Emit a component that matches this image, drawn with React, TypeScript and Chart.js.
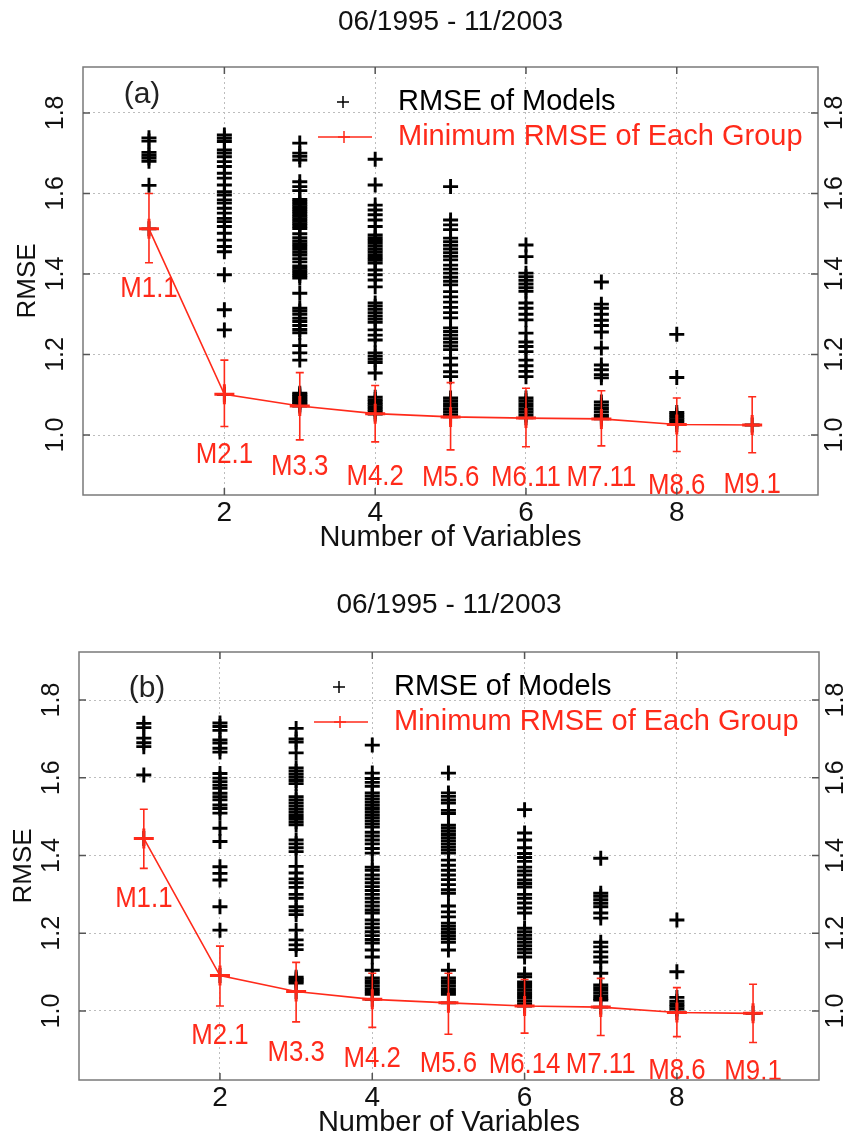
import React, { useEffect, useRef } from 'react';
import { Chart, registerables } from 'chart.js';

Chart.register(...registerables);

// ---------- text ----------
const TITLE = '06/1995 - 11/2003';
const X_TITLE = 'Number of Variables';
const Y_TITLE = 'RMSE';
const LEGEND_MODELS = 'RMSE of Models';
const LEGEND_MIN = 'Minimum RMSE of Each Group';

// ---------- axes ----------
const groups = [1, 2, 3, 4, 5, 6, 7, 8, 9];
const xTicks = [2, 4, 6, 8];
const yTicks = [1.0, 1.2, 1.4, 1.6, 1.8];

// ---------- panel (a): RMSE of every model, per number of variables ----------
const a1 = [1.738, 1.730, 1.702, 1.695, 1.688, 1.680, 1.620, 1.512];
const a2 = [1.745, 1.737, 1.729, 1.708, 1.700, 1.691, 1.679, 1.667, 1.650, 1.638, 1.621, 1.604, 1.596, 1.584, 1.576, 1.563, 1.551, 1.538, 1.530, 1.518, 1.501, 1.484, 1.468, 1.455, 1.398, 1.311, 1.261, 1.101];
const a3 = [1.725, 1.700, 1.692, 1.683, 1.629, 1.617, 1.607, 1.585, 1.579, 1.573, 1.567, 1.561, 1.555, 1.549, 1.543, 1.537, 1.531, 1.525, 1.519, 1.513, 1.500, 1.490, 1.482, 1.475, 1.468, 1.461, 1.454, 1.447, 1.438, 1.430, 1.420, 1.414, 1.408, 1.402, 1.396, 1.390, 1.352, 1.315, 1.308, 1.300, 1.290, 1.282, 1.272, 1.262, 1.254, 1.222, 1.204, 1.186, 1.104, 1.100, 1.096, 1.092, 1.088, 1.084, 1.080, 1.076, 1.072];
const a4 = [1.685, 1.621, 1.571, 1.559, 1.547, 1.534, 1.518, 1.497, 1.490, 1.483, 1.476, 1.469, 1.462, 1.455, 1.448, 1.441, 1.434, 1.427, 1.410, 1.398, 1.385, 1.368, 1.328, 1.320, 1.312, 1.304, 1.296, 1.288, 1.280, 1.261, 1.248, 1.236, 1.204, 1.196, 1.188, 1.180, 1.154, 1.094, 1.088, 1.082, 1.076, 1.070, 1.064, 1.058, 1.052];
const a5 = [1.617, 1.534, 1.522, 1.510, 1.489, 1.480, 1.471, 1.462, 1.453, 1.444, 1.435, 1.422, 1.412, 1.402, 1.392, 1.382, 1.373, 1.356, 1.343, 1.330, 1.317, 1.304, 1.291, 1.266, 1.257, 1.248, 1.239, 1.230, 1.221, 1.212, 1.191, 1.174, 1.157, 1.145, 1.092, 1.085, 1.078, 1.071, 1.064, 1.057, 1.050, 1.045];
const a6 = [1.472, 1.443, 1.402, 1.393, 1.384, 1.375, 1.366, 1.357, 1.328, 1.315, 1.300, 1.286, 1.253, 1.231, 1.220, 1.207, 1.186, 1.172, 1.158, 1.145, 1.092, 1.085, 1.078, 1.071, 1.064, 1.057, 1.050, 1.043];
const a7 = [1.380, 1.325, 1.315, 1.300, 1.285, 1.272, 1.256, 1.216, 1.174, 1.162, 1.150, 1.142, 1.082, 1.074, 1.066, 1.058, 1.050, 1.045, 1.040];
const a8 = [1.250, 1.143, 1.056, 1.050, 1.044, 1.038, 1.032, 1.026];
const a9 = [1.025];

const minA = [1.512, 1.101, 1.072, 1.053, 1.045, 1.042, 1.040, 1.026, 1.025];
const errHiA = [1.600, 1.186, 1.155, 1.123, 1.130, 1.116, 1.110, 1.092, 1.095];
const errLoA = [1.428, 1.021, 0.988, 0.983, 0.963, 0.971, 0.973, 0.959, 0.956];
const labelsA = ['M1.1', 'M2.1', 'M3.3', 'M4.2', 'M5.6', 'M6.11', 'M7.11', 'M8.6', 'M9.1'];
const labelYA = [1.363, 0.950, 0.920, 0.896, 0.893, 0.893, 0.893, 0.873, 0.876];

// ---------- panel (b) ----------
const b1 = [1.740, 1.729, 1.702, 1.690, 1.680, 1.607, 1.444];
const b2 = [1.741, 1.732, 1.722, 1.697, 1.689, 1.676, 1.666, 1.611, 1.599, 1.590, 1.581, 1.573, 1.560, 1.551, 1.543, 1.530, 1.521, 1.509, 1.470, 1.436, 1.371, 1.354, 1.337, 1.268, 1.208, 1.091];
const b3 = [1.727, 1.700, 1.692, 1.664, 1.625, 1.617, 1.609, 1.601, 1.593, 1.585, 1.551, 1.543, 1.535, 1.527, 1.519, 1.511, 1.503, 1.495, 1.487, 1.479, 1.440, 1.430, 1.420, 1.410, 1.372, 1.355, 1.340, 1.330, 1.318, 1.300, 1.290, 1.268, 1.258, 1.248, 1.208, 1.183, 1.170, 1.158, 1.087, 1.082, 1.077, 1.072, 1.050];
const b4 = [1.684, 1.612, 1.598, 1.588, 1.578, 1.561, 1.553, 1.545, 1.537, 1.529, 1.521, 1.513, 1.505, 1.497, 1.489, 1.481, 1.473, 1.460, 1.450, 1.440, 1.430, 1.418, 1.406, 1.370, 1.362, 1.350, 1.340, 1.330, 1.320, 1.310, 1.300, 1.290, 1.280, 1.270, 1.260, 1.252, 1.234, 1.224, 1.214, 1.204, 1.194, 1.184, 1.175, 1.157, 1.139, 1.105, 1.085, 1.078, 1.071, 1.064, 1.057, 1.050, 1.043, 1.030];
const b5 = [1.612, 1.561, 1.552, 1.543, 1.535, 1.516, 1.508, 1.478, 1.470, 1.462, 1.454, 1.446, 1.438, 1.430, 1.422, 1.414, 1.406, 1.388, 1.375, 1.362, 1.350, 1.338, 1.325, 1.312, 1.303, 1.270, 1.255, 1.242, 1.226, 1.218, 1.210, 1.202, 1.194, 1.186, 1.177, 1.157, 1.105, 1.085, 1.078, 1.071, 1.064, 1.057, 1.050, 1.043, 1.021];
const b6 = [1.518, 1.458, 1.440, 1.420, 1.405, 1.395, 1.385, 1.370, 1.360, 1.350, 1.337, 1.328, 1.319, 1.300, 1.290, 1.278, 1.265, 1.252, 1.213, 1.204, 1.195, 1.186, 1.177, 1.168, 1.159, 1.150, 1.139, 1.095, 1.088, 1.075, 1.068, 1.061, 1.054, 1.047, 1.040, 1.033, 1.026, 1.019, 1.013];
const b7 = [1.393, 1.303, 1.295, 1.286, 1.277, 1.268, 1.252, 1.239, 1.177, 1.165, 1.152, 1.139, 1.126, 1.097, 1.067, 1.060, 1.053, 1.046, 1.039, 1.032, 1.028, 1.010];
const b8 = [1.234, 1.101, 1.035, 1.025, 1.018, 1.012, 1.005, 0.996];
const b9 = [0.994];

const minB = [1.444, 1.091, 1.050, 1.030, 1.021, 1.013, 1.010, 0.996, 0.994];
const errHiB = [1.519, 1.167, 1.125, 1.097, 1.097, 1.081, 1.084, 1.060, 1.069];
const errLoB = [1.367, 1.013, 0.972, 0.958, 0.940, 0.943, 0.937, 0.934, 0.919];
const labelsB = ['M1.1', 'M2.1', 'M3.3', 'M4.2', 'M5.6', 'M6.14', 'M7.11', 'M8.6', 'M9.1'];
const labelYB = [1.290, 0.936, 0.892, 0.876, 0.864, 0.861, 0.861, 0.846, 0.844];

// ---------- styles ----------
const RED = '#ff2a1a';
const GRID = '#bdbdbd';
const FRAME = '#7a7a7a';
const FONT = '"Liberation Sans", Arial, Helvetica, sans-serif';

type PanelCfg = {
  models: number[][];
  min: number[];
  hi: number[];
  lo: number[];
  labels: string[];
  labelY: number[];
  tag: string;
  yMin: number; yMax: number; xMin: number; xMax: number;
  canvasH: number; padTop: number; yW: number; y2W: number; xH: number;
  xTitlePad: number; yTitlePad: number; titleY: number; tagDX: number; tagDY: number;
};

const panelA: PanelCfg = {
  models: [a1, a2, a3, a4, a5, a6, a7, a8, a9],
  min: minA, hi: errHiA, lo: errLoA, labels: labelsA, labelY: labelYA, tag: '(a)',
  yMin: 0.851, yMax: 1.914, xMin: 0.125, xMax: 9.873,
  canvasH: 575, padTop: 67, yW: 83, y2W: 31, xH: 80,
  xTitlePad: 19.6, yTitlePad: 12.5, titleY: 22, tagDX: 59, tagDY: 28,
};

const panelB: PanelCfg = {
  models: [b1, b2, b3, b4, b5, b6, b7, b8, b9],
  min: minB, hi: errHiB, lo: errLoB, labels: labelsB, labelY: labelYB, tag: '(b)',
  yMin: 0.8225, yMax: 1.9235, xMin: 0.149, xMax: 9.866,
  canvasH: 566, padTop: 77, yW: 79, y2W: 30, xH: 61,
  xTitlePad: 0.6, yTitlePad: 8, titleY: 30, tagDX: 68, tagDY: 37,
};

function drawPlus(ctx: CanvasRenderingContext2D, x: number, y: number, r: number) {
  ctx.beginPath();
  ctx.moveTo(x - r, y); ctx.lineTo(x + r, y);
  ctx.moveTo(x, y - r); ctx.lineTo(x, y + r);
  ctx.stroke();
}

function decorPlugin(p: PanelCfg) {
  return {
    id: 'decor',
    afterDatasetsDraw(chart: any) {
      const { ctx, scales } = chart;
      const xs = scales.x, ys = scales.y;
      ctx.save();
      ctx.strokeStyle = RED;
      ctx.lineWidth = 1.6;
      p.min.forEach((_m, i) => {
        const px = xs.getPixelForValue(groups[i]);
        const t = ys.getPixelForValue(p.hi[i]);
        const b = ys.getPixelForValue(p.lo[i]);
        ctx.beginPath();
        ctx.moveTo(px, t); ctx.lineTo(px, b);
        ctx.moveTo(px - 4, t); ctx.lineTo(px + 4, t);
        ctx.moveTo(px - 4, b); ctx.lineTo(px + 4, b);
        ctx.stroke();
      });
      // model labels (condensed)
      ctx.fillStyle = RED;
      ctx.font = '30px ' + FONT;
      ctx.textAlign = 'center';
      ctx.textBaseline = 'middle';
      p.labels.forEach((lab, i) => {
        const px = xs.getPixelForValue(groups[i]);
        const py = ys.getPixelForValue(p.labelY[i]);
        ctx.save();
        ctx.translate(px, py);
        ctx.scale(0.86, 1);
        ctx.fillText(lab, 0, 0);
        ctx.restore();
      });
      ctx.restore();
    },
    afterDraw(chart: any) {
      const { ctx, chartArea: ca, scales } = chart;
      const xs = scales.x, ys = scales.y;
      ctx.save();
      // frame
      ctx.strokeStyle = FRAME;
      ctx.lineWidth = 1.5;
      ctx.strokeRect(ca.left, ca.top, ca.right - ca.left, ca.bottom - ca.top);
      // inward ticks
      ctx.strokeStyle = '#555';
      ctx.beginPath();
      yTicks.forEach((v) => {
        const py = ys.getPixelForValue(v);
        ctx.moveTo(ca.left, py); ctx.lineTo(ca.left + 7, py);
        ctx.moveTo(ca.right - 7, py); ctx.lineTo(ca.right, py);
      });
      xTicks.forEach((v) => {
        const px = xs.getPixelForValue(v);
        ctx.moveTo(px, ca.bottom); ctx.lineTo(px, ca.bottom - 7);
        ctx.moveTo(px, ca.top); ctx.lineTo(px, ca.top + 7);
      });
      ctx.stroke();
      // title
      ctx.fillStyle = '#111';
      ctx.font = '28px ' + FONT;
      ctx.textAlign = 'center';
      ctx.textBaseline = 'middle';
      ctx.fillText(TITLE, (ca.left + ca.right) / 2, p.titleY);
      // panel tag
      ctx.font = '30px ' + FONT;
      ctx.fillStyle = '#222';
      ctx.fillText(p.tag, ca.left + p.tagDX, ca.top + p.tagDY);
      // legend
      const lx = ca.left + 260;
      const r1 = ca.top + 35;
      const r2 = ca.top + 70;
      ctx.strokeStyle = '#000';
      ctx.lineWidth = 1.5;
      drawPlus(ctx, lx, r1, 6);
      ctx.strokeStyle = RED;
      ctx.beginPath();
      ctx.moveTo(ca.left + 235, r2); ctx.lineTo(ca.left + 289, r2);
      ctx.stroke();
      drawPlus(ctx, lx + 1, r2, 6);
      ctx.font = '29px ' + FONT;
      ctx.textAlign = 'left';
      ctx.fillStyle = '#000';
      ctx.fillText(LEGEND_MODELS, ca.left + 315, r1);
      ctx.fillStyle = RED;
      ctx.fillText(LEGEND_MIN, ca.left + 315, r2);
      ctx.restore();
    },
  };
}

function buildConfig(p: PanelCfg): any {
  const modelPoints: { x: number; y: number }[] = [];
  p.models.forEach((arr, i) => arr.forEach((v) => modelPoints.push({ x: groups[i], y: v })));
  const minPoints = p.min.map((v, i) => ({ x: groups[i], y: v }));
  const setTicks = (vals: number[]) => (s: any) => { s.ticks = vals.map((v) => ({ value: v })); };
  const yTickOpts = (pad: number) => ({
    padding: pad,
    crossAlign: 'center',
    minRotation: 90,
    maxRotation: 90,
    color: '#111',
    font: { family: FONT, size: 25 },
    callback: (v: number) => Number(v).toFixed(1),
  });
  return {
    type: 'scatter',
    data: {
      datasets: [
        {
          label: LEGEND_MIN,
          data: minPoints,
          showLine: true,
          borderColor: RED,
          borderWidth: 1.6,
          pointStyle: 'cross',
          pointRadius: 10,
          pointBorderWidth: 3,
          pointBorderColor: RED,
          backgroundColor: 'transparent',
          tension: 0,
          order: 0,
        },
        {
          label: LEGEND_MODELS,
          data: modelPoints,
          showLine: false,
          pointStyle: 'cross',
          pointRadius: 7.5,
          pointBorderWidth: 2.9,
          pointBorderColor: '#000',
          backgroundColor: 'transparent',
          order: 1,
        },
      ],
    },
    options: {
      animation: false,
      responsive: false,
      devicePixelRatio: 1,
      events: [],
      layout: { padding: { top: p.padTop, left: 0, right: 0, bottom: 0 } },
      plugins: {
        legend: { display: false },
        title: { display: false },
        tooltip: { enabled: false },
      },
      scales: {
        x: {
          type: 'linear',
          position: 'bottom',
          min: p.xMin,
          max: p.xMax,
          afterBuildTicks: setTicks(xTicks),
          afterFit: (s: any) => { s.height = p.xH; },
          grid: { color: GRID, lineWidth: 1, drawTicks: false },
          border: { display: false, dash: [2, 3] },
          ticks: {
            padding: 1,
            color: '#111',
            maxRotation: 0,
            autoSkip: false,
            font: { family: FONT, size: 28 },
            callback: (v: number) => String(v),
          },
          title: {
            display: true,
            text: X_TITLE,
            color: '#111',
            font: { family: FONT, size: 29 },
            padding: { top: 0, bottom: p.xTitlePad },
          },
        },
        y: {
          type: 'linear',
          position: 'left',
          min: p.yMin,
          max: p.yMax,
          afterBuildTicks: setTicks(yTicks),
          afterFit: (s: any) => { s.width = p.yW; },
          grid: { color: GRID, lineWidth: 1, drawTicks: false },
          border: { display: false, dash: [2, 3] },
          ticks: yTickOpts(10),
          title: {
            display: true,
            text: Y_TITLE,
            color: '#111',
            font: { family: FONT, size: 26 },
            padding: { top: p.yTitlePad, bottom: 0 },
          },
        },
        y2: {
          type: 'linear',
          position: 'right',
          min: p.yMin,
          max: p.yMax,
          afterBuildTicks: setTicks(yTicks),
          afterFit: (s: any) => { s.width = p.y2W; },
          grid: { display: false, drawTicks: false },
          border: { display: false },
          ticks: yTickOpts(0),
        },
      },
    },
    plugins: [decorPlugin(p)],
  };
}

function Panel({ cfg, top }: { cfg: PanelCfg; top: number }) {
  const ref = useRef<HTMLCanvasElement>(null);
  useEffect(() => {
    if (!ref.current) return;
    const chart = new Chart(ref.current, buildConfig(cfg));
    return () => chart.destroy();
  }, [cfg]);
  return (
    <canvas
      ref={ref}
      width={849}
      height={cfg.canvasH}
      style={{ position: 'absolute', left: 0, top, width: 849, height: cfg.canvasH, display: 'block' }}
    />
  );
}

export default function App() {
  return (
    <div style={{ position: 'absolute', left: 0, top: 0, width: 849, height: 1141, background: '#fff', overflow: 'hidden' }}>
      <Panel cfg={panelA} top={0} />
      <Panel cfg={panelB} top={panelA.canvasH} />
    </div>
  );
}
